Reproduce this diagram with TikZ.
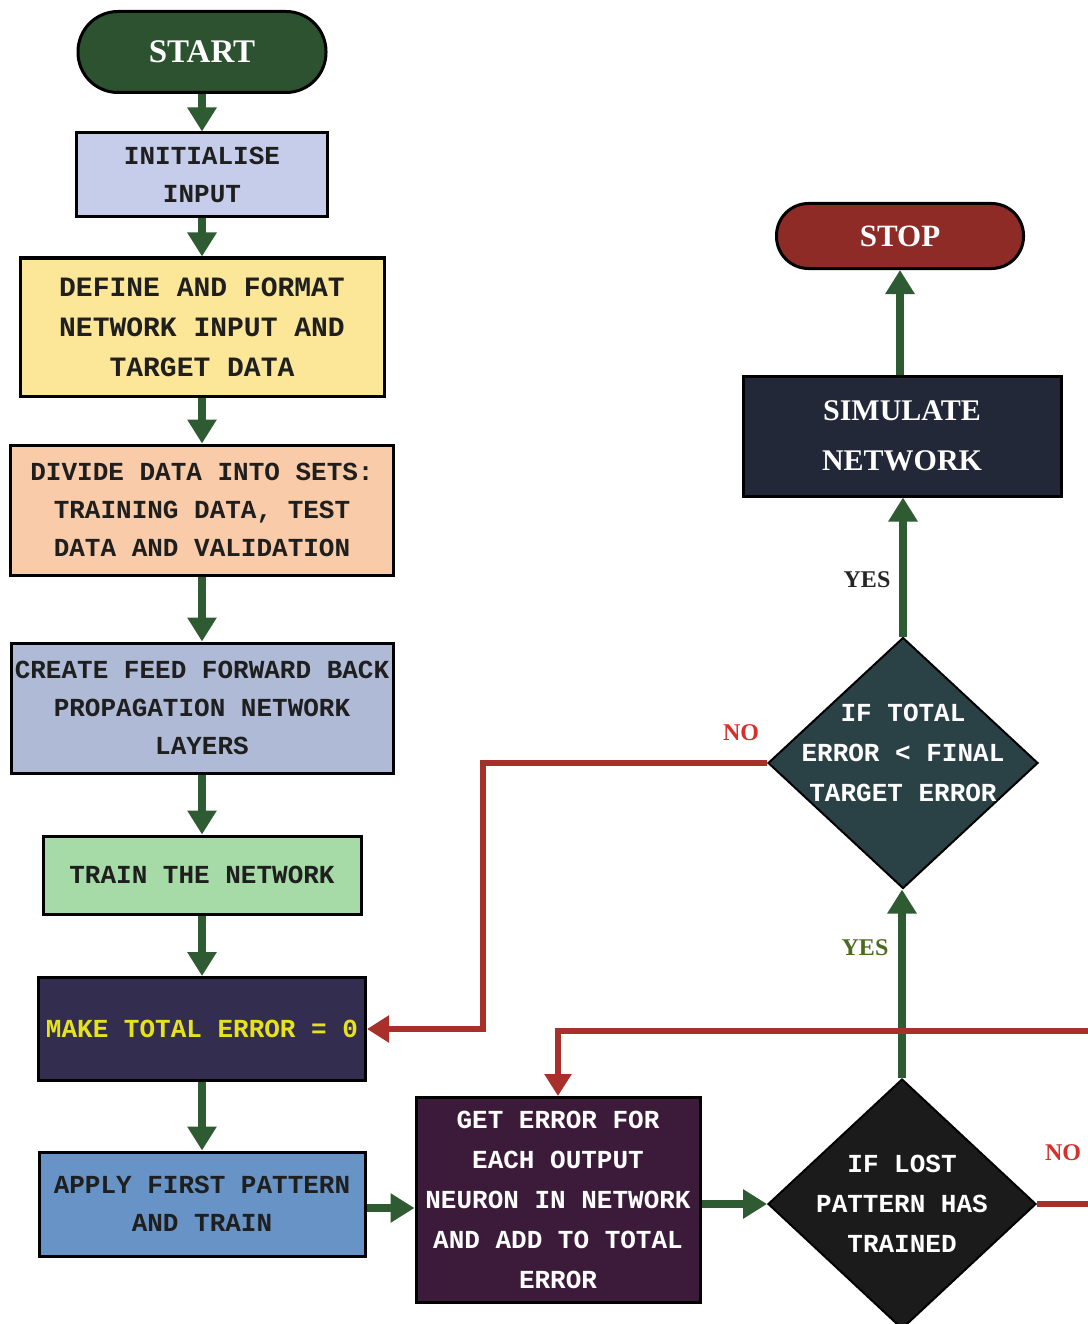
\documentclass[tikz,border=0pt]{standalone}
\usepackage{fontspec}
\setmainfont{Liberation Serif}
\newfontfamily\boxfont{Liberation Mono}
\usetikzlibrary{arrows.meta,shapes.geometric}
\definecolor{flowgreen}{HTML}{2E5B32}
\definecolor{flowred}{HTML}{A8302A}
\definecolor{nored}{HTML}{D6302B}
\definecolor{yesolive}{HTML}{4D6B1F}
\definecolor{startfill}{HTML}{2D5230}
\definecolor{initfill}{HTML}{C6CDEA}
\definecolor{definefill}{HTML}{FBE797}
\definecolor{dividefill}{HTML}{F9CBA8}
\definecolor{createfill}{HTML}{AEBAD6}
\definecolor{trainfill}{HTML}{A6DBA7}
\definecolor{makefill}{HTML}{332E50}
\definecolor{makeyellow}{HTML}{E6E31E}
\definecolor{applyfill}{HTML}{6893C6}
\definecolor{getfill}{HTML}{3B1B39}
\definecolor{lostfill}{HTML}{1B1B1B}
\definecolor{totalfill}{HTML}{2A4246}
\definecolor{simfill}{HTML}{232838}
\definecolor{stopfill}{HTML}{8E2B27}
\begin{document}
\begin{tikzpicture}[
		x=1pt, y=-1pt,
		stepbox/.style={rectangle, draw=black, line width=3pt, align=center, inner sep=0pt,
			text=black!88, font=\boxfont\bfseries\fontsize{26}{38}\selectfont},
		terminal/.style={rectangle, draw=black, line width=3pt, inner sep=0pt, text=white,
			font=\bfseries\fontsize{31}{36}\selectfont},
		decision/.style={diamond, draw=black, line width=2pt, inner sep=0pt},
		decisiontext/.style={align=center, text=white, font=\boxfont\bfseries\fontsize{26}{40}\selectfont},
		flow/.style={draw=flowgreen, line width=8pt, -{Triangle[length=24pt,width=28pt]}},
		loopback/.style={draw=flowred, line width=6pt, -{Triangle[length=22pt,width=26pt]}},
		answer/.style={font=\bfseries\fontsize{24}{28}\selectfont}
	]
		\useasboundingbox (0,0) rectangle (1087,1324);
		\fill[white] (0,0) rectangle (1087,1324);
		% left column
		\node[terminal, fill=startfill, rounded corners=40pt, minimum width=248pt, minimum height=81pt, font=\bfseries\fontsize{33}{36}\selectfont] (start) at (202,52) {START};
		\node[stepbox, fill=initfill, minimum width=251pt, minimum height=84pt] (init) at (202,175) {INITIALISE\\INPUT};
		\node[stepbox, fill=definefill, minimum width=364pt, minimum height=138pt, font=\boxfont\bfseries\fontsize{28}{40}\selectfont] (define) at (202,327) {DEFINE AND FORMAT\\NETWORK INPUT AND\\TARGET DATA};
		\node[stepbox, fill=dividefill, minimum width=383pt, minimum height=130pt] (divide) at (202,510) {DIVIDE DATA INTO SETS:\\TRAINING DATA, TEST\\DATA AND VALIDATION};
		\node[stepbox, fill=createfill, minimum width=382pt, minimum height=130pt] (create) at (202,708) {CREATE FEED FORWARD BACK\\PROPAGATION NETWORK\\LAYERS};
		\node[stepbox, fill=trainfill, minimum width=318pt, minimum height=78pt] (train) at (202,875) {TRAIN THE NETWORK};
		\node[stepbox, fill=makefill, text=makeyellow, minimum width=327pt, minimum height=103pt] (make) at (202,1029) {MAKE TOTAL ERROR = 0};
		\node[stepbox, fill=applyfill, minimum width=326pt, minimum height=104pt] (apply) at (202,1204) {APPLY FIRST PATTERN\\AND TRAIN};
		% bottom and right column
		\node[stepbox, fill=getfill, text=white, minimum width=284pt, minimum height=205pt, font=\boxfont\bfseries\fontsize{26}{40}\selectfont] (geterr) at (558,1200) {GET ERROR FOR\\EACH OUTPUT\\NEURON IN NETWORK\\AND ADD TO TOTAL\\ERROR};
		\node[decision, fill=lostfill, minimum width=268pt, minimum height=250pt,
			label={[decisiontext, name=losttext]center:{IF LOST\\PATTERN HAS\\TRAINED}}] (lost) at (902,1204) {};
		\node[decision, fill=totalfill, minimum width=270pt, minimum height=251pt,
			label={[decisiontext, name=totaltext, yshift=10pt]center:{IF TOTAL\\ERROR < FINAL\\TARGET ERROR}}] (total) at (903,763) {};
		\node[terminal, fill=simfill, minimum width=318pt, minimum height=120pt, align=center, font=\bfseries\fontsize{30}{50}\selectfont] (simulate) at (902,436) {SIMULATE\\NETWORK};
		\node[terminal, fill=stopfill, rounded corners=32pt, minimum width=247pt, minimum height=65pt] (stop) at (900,236) {STOP};
		% answers
		\node[answer, text=nored] (nototal) at (741,733) {NO};
		\node[answer, text=black!85] (yestotal) at (867,580) {YES};
		\node[answer, text=yesolive] (yeslost) at (865,948) {YES};
		\node[answer, text=nored] (nolost) at (1063,1153) {NO};
		% connectors
		\foreach \a/\b in {start/init, init/define, define/divide, divide/create, create/train, train/make, make/apply} {
			\draw[flow] (\a) -- (\b);
		}
		\draw[flow] (apply.east |- 0,1208) -- (geterr.west |- 0,1208);
		\draw[flow] (geterr.east |- lost.west) -- (lost.west);
		\draw[flow] (lost.north) -- (lost.north |- total.south);
		\draw[flow] (total.north) -- (total.north |- simulate.south);
		\draw[flow] (simulate.north -| stop.south) -- (stop.south);
		\coordinate (nobend) at (483,763);
		\draw[loopback] (total.west) -- (nobend) |- (make.east);
		\coordinate (loopright) at (1110,1204);
		\coordinate (looptop) at (1110,1031);
		\draw[loopback] (lost.east) -- (loopright) -- (looptop) -| (geterr.north);
	\end{tikzpicture}
\end{document}
